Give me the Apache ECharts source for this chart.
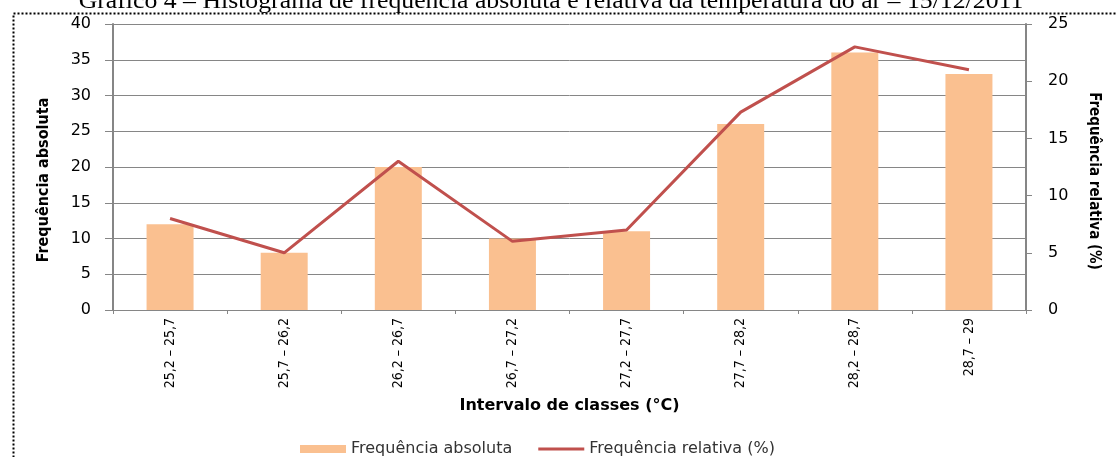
<!DOCTYPE html>
<html>
<head>
<meta charset="UTF-8">
<script src="https://cdn.jsdelivr.net/npm/echarts@6/dist/echarts.min.js"></script>
<style>
  html, body { margin: 0; padding: 0; background: #fff; }
  #chart { width: 1117px; height: 457px; }
</style>
</head>
<body>
<div id="chart"></div>
<script>
// classes de temperatura e frequencias
var classes = ['25,2 – 25,7', '25,7 – 26,2', '26,2 – 26,7', '26,7 – 27,2',
               '27,2 – 27,7', '27,7 – 28,2', '28,2 – 28,7', '28,7 – 29'];
var freqAbsoluta = [12, 8, 20, 10, 11, 26, 36, 33];
var freqRelativa = [8, 5, 13, 6, 7, 17.3, 23, 21];
var ticksAbs = { min: 0, max: 40, step: 5 };
var ticksRel = { min: 0, max: 25, step: 5 };

var gray = '#868686';
var narrow = '"Liberation Sans Narrow", "DejaVu Sans Condensed", sans-serif';
var chart = echarts.init(document.getElementById('chart'), null, { renderer: 'canvas' });

chart.setOption({
  animation: false,
  backgroundColor: '#fff',
  grid: { left: 113, right: 91, top: 24, bottom: 147, containLabel: false },
  legend: {
    left: 295, top: 436,
    itemWidth: 46, itemHeight: 8, itemGap: 26,
    textStyle: { fontFamily: 'DejaVu Sans', fontSize: 16, color: '#333' },
    data: [
      { name: 'Frequência absoluta', icon: 'rect' },
      { name: 'Frequência relativa (%)', icon: 'path://M0,0 L46,0 L46,3 L0,3 Z' }
    ]
  },
  xAxis: {
    type: 'category',
    data: classes,
    name: 'Intervalo de classes (°C)',
    nameLocation: 'middle',
    nameGap: 88,
    nameTextStyle: { fontFamily: 'DejaVu Sans', fontWeight: 'bold', fontSize: 16, color: '#000' },
    axisLine: { lineStyle: { color: gray, width: 1 } },
    axisTick: { show: true, length: 4, lineStyle: { color: gray } },
    axisLabel: { rotate: 90, margin: 8, color: '#000', fontFamily: narrow, fontSize: 14 }
  },
  yAxis: [
    {
      type: 'value', min: ticksAbs.min, max: ticksAbs.max, interval: ticksAbs.step,
      position: 'left',
      axisLine: { show: true, lineStyle: { color: gray, width: 2 } },
      axisTick: { show: true, length: 8, lineStyle: { color: gray } },
      splitLine: { show: true, lineStyle: { color: gray, width: 1 } },
      axisLabel: { margin: 22, color: '#000', fontFamily: 'DejaVu Sans', fontSize: 16 }
    },
    {
      type: 'value', min: ticksRel.min, max: ticksRel.max, interval: ticksRel.step,
      position: 'right',
      axisLine: { show: true, lineStyle: { color: gray, width: 2 } },
      axisTick: { show: true, length: 6, lineStyle: { color: gray } },
      splitLine: { show: false },
      axisLabel: { margin: 22, color: '#000', fontFamily: 'DejaVu Sans', fontSize: 16 }
    }
  ],
  series: [
    {
      name: 'Frequência absoluta',
      type: 'bar',
      yAxisIndex: 0,
      data: freqAbsoluta,
      barWidth: 47,
      itemStyle: { color: '#FAC090' }
    },
    {
      name: 'Frequência relativa (%)',
      type: 'line',
      yAxisIndex: 1,
      data: freqRelativa,
      symbol: 'none',
      smooth: false,
      lineStyle: { color: '#C0504D', width: 3 },
      itemStyle: { color: '#C0504D' }
    }
  ],
  graphic: [
    {
      type: 'rect', left: 11, top: 11, silent: true,
      shape: { width: 1130, height: 470 },
      style: { fill: 'none', stroke: '#000', lineWidth: 2, lineDash: [2, 2] }
    },
    {
      type: 'text', silent: true,
      x: 551, y: 13, scaleX: 1.12, originX: 0,
      style: {
        text: 'Gráfico 4 – Histograma de frequência absoluta e relativa da temperatura do ar – 15/12/2011',
        font: '23px "Liberation Serif", serif', fill: '#000',
        align: 'center', verticalAlign: 'bottom'
      }
    },
    {
      type: 'text', silent: true,
      x: 44, y: 180, rotation: Math.PI / 2,
      style: {
        text: 'Frequência absoluta',
        font: 'bold 16px ' + narrow, fill: '#000',
        align: 'center', verticalAlign: 'middle'
      }
    },
    {
      type: 'text', silent: true,
      x: 1094, y: 181, rotation: -Math.PI / 2,
      style: {
        text: 'Frequência relativa (%)',
        font: 'bold 15px ' + narrow, fill: '#000',
        align: 'center', verticalAlign: 'middle'
      }
    }
  ]
});
</script>
</body>
</html>
